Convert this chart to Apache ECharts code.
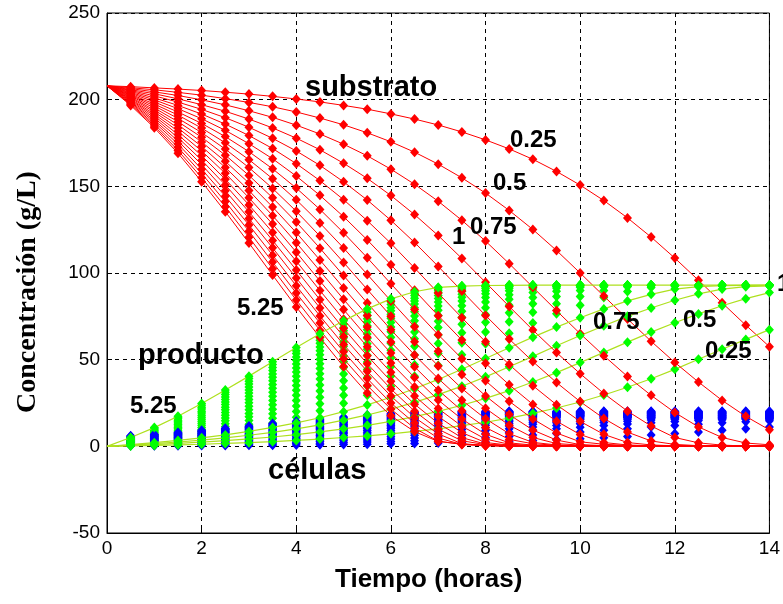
<!DOCTYPE html>
<html>
<head>
<meta charset="utf-8">
<script src="https://cdn.jsdelivr.net/npm/echarts@6/dist/echarts.min.js"></script>
<style>
html,body{margin:0;padding:0;background:#fff}
#main{width:783px;height:604px}
</style>
</head>
<body>
<div id="main"></div>
<script>
// tiempo (horas), un punto cada media hora
var tiempo = [0,0.5,1,1.5,2,2.5,3,3.5,4,4.5,5,5.5,6,6.5,7,7.5,8,8.5,9,9.5,10,10.5,11,11.5,12,12.5,13,13.5,14];

// inoculo inicial de cada curva
var inoculos = ['0.25','0.5','0.75','1','1.25','1.5','1.75','2','2.25','2.5','2.75','3','3.25','3.5','3.75','4','4.25','4.5','4.75','5','5.25'];
// curvas de producto que llevan linea
var productoConLinea = ['0.25','0.5','0.75','1','5.25'];

// substrato (g/L)
var s025 = [208,207.5,206.8,206.1,205.3,204.3,203.2,201.9,200.4,198.7,196.7,194.5,191.8,188.8,185.4,181.4,176.8,171.6,165.6,158.6,150.7,141.8,131.8,120.7,108.6,95.8,82.8,69.9,57.5];
var s050 = [208,206.9,205.7,204.2,202.6,200.6,198.4,195.9,192.9,189.4,185.5,180.9,175.7,169.7,162.8,154.9,146.1,136.1,125.1,113.0,100.0,86.7,73.5,60.6,48.4,37.1,26.5,17.3,9.5];
var s075 = [208,206.4,204.5,202.4,199.9,197.0,193.6,189.8,185.3,180.2,174.3,167.6,159.9,151.2,141.4,130.4,118.4,105.4,91.8,78.3,65.0,52.3,40.3,29.4,19.5,11.2,5.1,1.9,0.9];
var s100 = [208,205.8,203.4,200.5,197.1,193.3,188.8,183.7,177.8,171.1,163.3,154.6,144.7,133.7,121.6,108.4,94.6,80.7,67.1,54.1,41.9,30.5,20.3,11.7,5.1,2.0,0.7,0.2,0];
var s125 = [208,205.3,202.2,198.6,194.4,189.6,184.1,177.7,170.4,162.1,152.6,142.1,130.4,117.6,103.8,89.6,75.5,61.9,48.9,36.8,25.8,16.1,8.2,3.1,1.1,0.4,0.1,0,0];
var s150 = [208,204.8,201.0,196.7,191.7,185.9,179.3,171.8,163.1,153.3,142.3,130.2,117.1,102.9,88.4,74.2,60.3,47.2,35.0,24.0,14.4,6.9,2.2,0.8,0.3,0.1,0,0,0];
var s175 = [208,204.2,199.9,194.8,189.0,182.3,174.6,165.9,155.9,144.8,132.5,119.1,104.8,90.0,75.4,61.3,47.9,35.5,24.2,14.5,6.8,2.2,0.8,0.3,0.1,0,0,0,0];
var s200 = [208,203.7,198.7,192.9,186.3,178.7,170.0,160.1,149.0,136.7,123.2,108.8,93.8,78.9,64.4,50.6,37.8,26.0,15.8,7.7,2.6,1.2,0.5,0.2,0.1,0,0,0,0];
var s225 = [208,203.1,197.5,191.1,183.6,175.1,165.4,154.4,142.2,128.8,114.4,99.2,83.9,69.0,54.8,41.4,29.1,18.3,9.4,3.6,1.0,0.4,0.1,0,0,0,0,0,0];
var s250 = [208,202.6,196.4,189.2,181.0,171.5,160.8,148.8,135.6,121.3,106.1,90.5,75.1,60.3,46.4,33.4,21.9,12.2,5.1,1.6,0.7,0.2,0,0,0,0,0,0,0];
var s275 = [208,202.1,195.2,187.3,178.3,168.0,156.3,143.4,129.4,114.3,98.5,82.7,67.3,52.7,39.1,26.6,15.9,7.3,2.3,0.8,0.3,0.1,0,0,0,0,0,0,0];
var s300 = [208,201.5,194.0,185.5,175.6,164.4,151.9,138.1,123.3,107.5,91.4,75.5,60.2,45.9,32.4,20.6,10.9,4.0,1.5,0.6,0.2,0,0,0,0,0,0,0,0];
var s325 = [208,201.0,192.9,183.6,173.0,160.9,147.6,133.1,117.5,101.2,84.8,68.9,53.8,39.7,26.7,15.7,7.0,2.0,0.7,0.3,0.1,0,0,0,0,0,0,0,0];
var s350 = [208,200.4,191.7,181.8,170.4,157.5,143.4,128.2,112.0,95.4,78.9,63.0,48.1,34.2,21.8,11.6,4.2,1.2,0.5,0.2,0,0,0,0,0,0,0,0,0];
var s375 = [208,199.9,190.6,179.9,167.7,154.1,139.3,123.4,106.8,89.9,73.3,57.5,42.7,29.1,17.2,7.9,2.2,0.7,0.3,0.1,0,0,0,0,0,0,0,0,0];
var s400 = [208,199.4,189.4,178.1,165.1,150.8,135.3,118.8,101.7,84.6,68.0,52.3,37.6,24.3,13.3,5.0,1.3,0.5,0.2,0,0,0,0,0,0,0,0,0,0];
var s425 = [208,198.8,188.2,176.2,162.5,147.5,131.4,114.5,97.1,79.8,63.3,47.7,33.1,20.3,9.9,3.2,1.0,0.4,0.1,0,0,0,0,0,0,0,0,0,0];
var s450 = [208,198.3,187.1,174.4,159.9,144.3,127.7,110.3,92.6,75.2,58.7,43.3,29.0,16.7,7.2,1.5,0.6,0.2,0,0,0,0,0,0,0,0,0,0,0];
var s475 = [208,197.7,185.9,172.5,157.4,141.2,124.1,106.3,88.4,71.1,54.6,39.1,25.0,13.4,4.8,1.1,0.4,0.1,0,0,0,0,0,0,0,0,0,0,0];
var s500 = [208,197.2,184.8,170.7,155.0,138.2,120.6,102.5,84.4,67.0,50.5,35.1,21.5,10.4,3.0,1.1,0.4,0.1,0,0,0,0,0,0,0,0,0,0,0];
var s525 = [208,196.7,183.8,169.1,152.7,135.4,117.3,98.8,80.4,62.8,46.0,30.7,17.6,8.5,2.8,1.3,0.5,0.2,0,0,0,0,0,0,0,0,0,0,0];

// producto (g/L)
var p025 = [0,0.2,0.5,0.8,1.2,1.7,2.1,2.7,3.4,4.2,5.1,6.0,7.2,8.6,10.1,11.9,13.9,16.3,19.0,22.1,25.6,29.6,34.1,39.0,44.4,50.2,56.0,61.7,67.3];
var p050 = [0,0.5,1.0,1.7,2.4,3.3,4.3,5.4,6.7,8.3,10.1,12.1,14.4,17.1,20.2,23.7,27.7,32.1,37.1,42.5,48.3,54.2,60.1,65.9,71.3,76.4,81.1,85.2,88.7];
var p075 = [0,0.7,1.6,2.5,3.6,4.9,6.4,8.1,10.1,12.4,15.1,18.1,21.5,25.4,29.8,34.7,40.1,45.9,51.9,58.0,63.9,69.6,75.0,79.8,84.3,88.0,90.7,92.1,92.6];
var p100 = [0,1.0,2.1,3.4,4.9,6.6,8.6,10.9,13.5,16.5,20.0,23.9,28.3,33.2,38.6,44.5,50.7,56.9,63.0,68.8,74.2,79.3,83.9,87.7,90.7,92.1,92.7,92.9,93.0];
var p125 = [0,1.2,2.6,4.2,6.1,8.2,10.7,13.5,16.8,20.5,24.8,29.5,34.7,40.4,46.6,52.9,59.2,65.3,71.1,76.5,81.4,85.8,89.3,91.6,92.5,92.8,92.9,93.0,93.0];
var p150 = [0,1.4,3.1,5.1,7.3,9.9,12.8,16.2,20.1,24.5,29.4,34.8,40.6,47.0,53.5,59.8,66.0,71.9,77.3,82.2,86.5,89.9,92.0,92.6,92.8,92.9,93.0,93.0,93.0];
var p175 = [0,1.7,3.6,5.9,8.5,11.5,14.9,18.8,23.3,28.3,33.7,39.7,46.1,52.7,59.3,65.6,71.6,77.1,82.2,86.5,89.9,92.0,92.6,92.8,92.9,93.0,93.0,93.0,93.0];
var p200 = [0,1.9,4.2,6.7,9.7,13.1,17.0,21.4,26.4,31.9,37.9,44.3,51.0,57.7,64.2,70.4,76.1,81.4,85.9,89.5,91.8,92.4,92.8,92.9,92.9,93.0,93.0,93.0,93.0];
var p225 = [0,2.2,4.7,7.6,10.9,14.7,19.0,24.0,29.4,35.4,41.8,48.6,55.5,62.1,68.5,74.5,80.0,84.8,88.8,91.4,92.5,92.8,92.9,93.0,93.0,93.0,93.0,93.0,93.0];
var p250 = [0,2.4,5.2,8.4,12.1,16.3,21.1,26.5,32.4,38.8,45.5,52.5,59.4,66.0,72.2,78.0,83.2,87.5,90.7,92.3,92.7,92.9,93.0,93.0,93.0,93.0,93.0,93.0,93.0];
var p275 = [0,2.6,5.7,9.3,13.3,17.9,23.1,28.9,35.1,41.9,48.9,56.0,62.9,69.4,75.5,81.1,85.9,89.7,91.9,92.6,92.8,92.9,93.0,93.0,93.0,93.0,93.0,93.0,93.0];
var p300 = [0,2.9,6.3,10.1,14.5,19.5,25.1,31.2,37.9,44.9,52.1,59.2,66.1,72.5,78.5,83.8,88.1,91.2,92.3,92.7,92.9,93.0,93.0,93.0,93.0,93.0,93.0,93.0,93.0];
var p325 = [0,3.1,6.7,10.9,15.6,21.1,27.0,33.5,40.5,47.7,55.1,62.2,68.9,75.2,81.0,86.0,89.8,92.1,92.7,92.8,92.9,93.0,93.0,93.0,93.0,93.0,93.0,93.0,93.0];
var p350 = [0,3.4,7.3,11.7,16.8,22.6,28.9,35.7,42.9,50.3,57.7,64.8,71.5,77.7,83.2,87.8,91.1,92.4,92.8,92.9,93.0,93.0,93.0,93.0,93.0,93.0,93.0,93.0,93.0];
var p375 = [0,3.6,7.8,12.6,18.0,24.1,30.7,37.8,45.2,52.8,60.2,67.3,73.9,80.0,85.3,89.4,92.0,92.7,92.8,92.9,93.0,93.0,93.0,93.0,93.0,93.0,93.0,93.0,93.0];
var p400 = [0,3.8,8.3,13.4,19.2,25.6,32.5,39.9,47.5,55.2,62.6,69.6,76.2,82.1,87.0,90.7,92.4,92.8,92.9,93.0,93.0,93.0,93.0,93.0,93.0,93.0,93.0,93.0,93.0];
var p425 = [0,4.1,8.9,14.2,20.3,27.0,34.2,41.8,49.6,57.3,64.7,71.7,78.2,83.9,88.6,91.5,92.5,92.8,92.9,93.0,93.0,93.0,93.0,93.0,93.0,93.0,93.0,93.0,93.0];
var p450 = [0,4.3,9.3,15.0,21.5,28.5,35.9,43.7,51.6,59.4,66.7,73.6,80.0,85.5,89.8,92.3,92.7,92.9,93.0,93.0,93.0,93.0,93.0,93.0,93.0,93.0,93.0,93.0,93.0];
var p475 = [0,4.6,9.9,15.9,22.6,29.9,37.5,45.5,53.5,61.2,68.6,75.5,81.8,87.0,90.8,92.5,92.8,92.9,93.0,93.0,93.0,93.0,93.0,93.0,93.0,93.0,93.0,93.0,93.0];
var p500 = [0,4.8,10.4,16.7,23.7,31.2,39.1,47.2,55.2,63.0,70.4,77.3,83.4,88.3,91.6,92.5,92.8,92.9,93.0,93.0,93.0,93.0,93.0,93.0,93.0,93.0,93.0,93.0,93.0];
var p525 = [0,5.1,10.8,17.4,24.7,32.5,40.5,48.8,57.0,64.9,72.4,79.3,85.1,89.2,91.7,92.4,92.8,92.9,93.0,93.0,93.0,93.0,93.0,93.0,93.0,93.0,93.0,93.0,93.0];

// celulas (g/L)
var x025 = [0.25,0.29,0.34,0.39,0.44,0.52,0.6,0.69,0.8,0.92,1.06,1.22,1.42,1.63,1.88,2.17,2.5,2.87,3.3,3.81,4.38,5.02,5.74,6.54,7.41,8.33,9.26,10.19,11.09];
var x050 = [0.5,0.58,0.67,0.77,0.89,1.03,1.19,1.37,1.59,1.84,2.12,2.45,2.83,3.26,3.75,4.32,4.96,5.68,6.47,7.34,8.28,9.23,10.18,11.11,11.99,12.8,13.57,14.23,14.79];
var x075 = [0.75,0.87,1.0,1.15,1.33,1.54,1.79,2.06,2.38,2.75,3.18,3.66,4.21,4.84,5.55,6.34,7.2,8.14,9.12,10.09,11.05,11.96,12.82,13.61,14.32,14.92,15.36,15.59,15.66];
var x100 = [1,1.16,1.33,1.54,1.78,2.06,2.38,2.75,3.17,3.66,4.22,4.84,5.56,6.35,7.22,8.17,9.16,10.17,11.14,12.08,12.96,13.78,14.51,15.13,15.61,15.83,15.93,15.96,15.98];
var x125 = [1.25,1.44,1.67,1.93,2.23,2.57,2.97,3.43,3.96,4.55,5.24,5.99,6.84,7.76,8.75,9.77,10.79,11.77,12.71,13.58,14.37,15.07,15.64,16.0,16.15,16.2,16.22,16.23,16.23];
var x150 = [1.5,1.73,2.0,2.31,2.67,3.09,3.57,4.11,4.73,5.44,6.23,7.1,8.04,9.07,10.11,11.13,12.13,13.08,13.96,14.75,15.44,15.98,16.32,16.42,16.45,16.47,16.48,16.48,16.48];
var x175 = [1.75,2.02,2.33,2.7,3.12,3.6,4.15,4.78,5.5,6.3,7.19,8.15,9.18,10.25,11.3,12.31,13.28,14.17,14.98,15.68,16.24,16.57,16.67,16.7,16.72,16.73,16.73,16.73,16.73];
var x200 = [2.0,2.31,2.67,3.09,3.56,4.11,4.74,5.45,6.25,7.13,8.11,9.14,10.22,11.3,12.34,13.33,14.25,15.1,15.84,16.42,16.79,16.89,16.94,16.96,16.97,16.98,16.98,16.98,16.98];
var x225 = [2.25,2.6,3.01,3.47,4.01,4.62,5.32,6.11,6.99,7.95,8.99,10.08,11.19,12.26,13.28,14.25,15.13,15.91,16.55,16.97,17.15,17.2,17.22,17.23,17.23,17.23,17.23,17.23,17.23];
var x250 = [2.5,2.89,3.34,3.85,4.44,5.13,5.9,6.76,7.71,8.74,9.84,10.96,12.07,13.13,14.14,15.07,15.9,16.6,17.11,17.36,17.43,17.46,17.48,17.48,17.48,17.48,17.48,17.48,17.48];
var x275 = [2.75,3.17,3.67,4.24,4.89,5.63,6.47,7.4,8.41,9.5,10.63,11.77,12.88,13.93,14.91,15.81,16.58,17.2,17.56,17.67,17.7,17.72,17.73,17.73,17.73,17.73,17.73,17.73,17.73];
var x300 = [3.0,3.47,4.01,4.62,5.33,6.14,7.04,8.03,9.1,10.24,11.4,12.54,13.64,14.67,15.64,16.49,17.19,17.69,17.87,17.93,17.96,17.98,17.98,17.98,17.98,17.98,17.98,17.98,17.98];
var x325 = [3.25,3.75,4.34,5.01,5.77,6.64,7.6,8.64,9.77,10.94,12.12,13.27,14.35,15.37,16.3,17.1,17.72,18.08,18.18,18.2,18.22,18.23,18.23,18.23,18.23,18.23,18.23,18.23,18.23];
var x350 = [3.5,4.05,4.67,5.39,6.21,7.14,8.15,9.25,10.41,11.61,12.8,13.94,15.01,16.01,16.91,17.64,18.17,18.39,18.44,18.46,18.48,18.48,18.48,18.48,18.48,18.48,18.48,18.48,18.48];
var x375 = [3.75,4.33,5.0,5.77,6.65,7.63,8.7,9.84,11.04,12.25,13.45,14.59,15.65,16.63,17.49,18.16,18.57,18.68,18.7,18.72,18.73,18.73,18.73,18.73,18.73,18.73,18.73,18.73,18.73];
var x400 = [4.0,4.62,5.34,6.15,7.09,8.12,9.23,10.42,11.65,12.88,14.08,15.21,16.27,17.23,18.02,18.62,18.88,18.94,18.96,18.98,18.98,18.98,18.98,18.98,18.98,18.98,18.98,18.98,18.98];
var x425 = [4.25,4.91,5.68,6.54,7.53,8.61,9.77,10.98,12.23,13.48,14.67,15.79,16.84,17.76,18.51,18.99,19.15,19.2,19.22,19.23,19.23,19.23,19.23,19.23,19.23,19.23,19.23,19.23,19.23];
var x450 = [4.5,5.2,6.0,6.92,7.96,9.09,10.28,11.53,12.81,14.06,15.25,16.36,17.39,18.27,18.96,19.37,19.43,19.46,19.48,19.48,19.48,19.48,19.48,19.48,19.48,19.48,19.48,19.48,19.48];
var x475 = [4.75,5.49,6.34,7.31,8.39,9.56,10.79,12.07,13.36,14.61,15.79,16.91,17.93,18.76,19.38,19.65,19.7,19.72,19.73,19.73,19.73,19.73,19.73,19.73,19.73,19.73,19.73,19.73,19.73];
var x500 = [5.0,5.78,6.67,7.69,8.82,10.03,11.29,12.6,13.9,15.15,16.34,17.45,18.43,19.23,19.76,19.9,19.95,19.97,19.98,19.98,19.98,19.98,19.98,19.98,19.98,19.98,19.98,19.98,19.98];
var x525 = [5.25,6.06,6.99,8.05,9.23,10.48,11.78,13.11,14.44,15.7,16.91,18.02,18.96,19.61,20.02,20.13,20.19,20.21,20.23,20.23,20.23,20.23,20.23,20.23,20.23,20.23,20.23,20.23,20.23];

var sustrato = [s025,s050,s075,s100,s125,s150,s175,s200,s225,s250,s275,s300,s325,s350,s375,s400,s425,s450,s475,s500,s525];
var producto = [p025,p050,p075,p100,p125,p150,p175,p200,p225,p250,p275,p300,p325,p350,p375,p400,p425,p450,p475,p500,p525];
var celulas = [x025,x050,x075,x100,x125,x150,x175,x200,x225,x250,x275,x300,x325,x350,x375,x400,x425,x450,x475,x500,x525];

var chart = echarts.init(document.getElementById('main'));

var tamMarca = [9, 10];

// linea desde t=0, marcadores desde t=0.5
function conLinea(valores) {
  return tiempo.map(function (t, j) {
    if (j === 0) return { value: [t, valores[j]], symbol: 'none' };
    return [t, valores[j]];
  });
}
function soloPuntos(valores) {
  var d = [];
  for (var j = 1; j < tiempo.length; j++) d.push([tiempo[j], valores[j]]);
  return d;
}

var series = [];
for (var i = 0; i < inoculos.length; i++) {
  series.push({
    type: 'line', name: 'S ' + inoculos[i], data: conLinea(sustrato[i]),
    symbol: 'diamond', symbolSize: tamMarca, showAllSymbol: true,
    lineStyle: { color: '#ff0000', width: 1 },
    itemStyle: { color: '#ff0000' }
  });
  if (productoConLinea.indexOf(inoculos[i]) >= 0) {
    series.push({
      type: 'line', name: 'P ' + inoculos[i], data: conLinea(producto[i]),
      symbol: 'diamond', symbolSize: tamMarca, showAllSymbol: true,
      lineStyle: { color: '#aee01e', width: 1.2 },
      itemStyle: { color: '#00ff00' }
    });
  } else {
    series.push({
      type: 'scatter', name: 'P ' + inoculos[i], data: soloPuntos(producto[i]),
      symbol: 'diamond', symbolSize: tamMarca,
      itemStyle: { color: '#00ff00', opacity: 1 }
    });
  }
  series.push({
    type: 'scatter', name: 'X ' + inoculos[i], data: soloPuntos(celulas[i]),
    symbol: 'diamond', symbolSize: tamMarca,
    itemStyle: { color: '#0000ff', opacity: 1 }
  });
}

var fuenteEtiqueta = 'bold 24px "Liberation Sans", Arial, sans-serif';
var fuenteNombre = 'bold 29px "Liberation Sans", Arial, sans-serif';
function texto(t, x, y, fuente) {
  return {
    type: 'text', left: x, top: y, z: 100,
    style: { text: t, font: fuente, fill: '#000' }
  };
}

chart.setOption({
  animation: false,
  grid: { left: 107, right: 13, top: 13, bottom: 71, show: true, borderColor: '#000', borderWidth: 1, backgroundColor: '#fff' },
  xAxis: {
    type: 'value', min: 0, max: 14, interval: 2,
    axisLine: { show: true, onZero: false, lineStyle: { color: '#000', width: 1 } },
    axisTick: { show: true, inside: true, length: 5, lineStyle: { color: '#000' } },
    axisLabel: { color: '#000', fontSize: 19, fontFamily: '"Liberation Sans", Arial, sans-serif', margin: 6 },
    splitLine: { show: true, lineStyle: { color: '#000', type: [4, 4], width: 1 } }
  },
  yAxis: {
    type: 'value', min: -50, max: 250, interval: 50,
    axisLine: { show: true, onZero: false, lineStyle: { color: '#000', width: 1 } },
    axisTick: { show: true, inside: true, length: 5, lineStyle: { color: '#000' } },
    axisLabel: { color: '#000', fontSize: 19, fontFamily: '"Liberation Sans", Arial, sans-serif', margin: 7 },
    splitLine: { show: true, lineStyle: { color: '#000', type: [4, 4], width: 1 } }
  },
  graphic: [
    texto('substrato', 305, 73, fuenteNombre),
    texto('0.25', 510, 128, fuenteEtiqueta),
    texto('0.5', 493, 171, fuenteEtiqueta),
    texto('0.75', 470, 215, fuenteEtiqueta),
    texto('1', 452, 225, fuenteEtiqueta),
    texto('5.25', 237, 296, fuenteEtiqueta),
    texto('producto', 138, 341, fuenteNombre),
    texto('5.25', 130, 394, fuenteEtiqueta),
    texto('0.75', 593, 310, fuenteEtiqueta),
    texto('0.5', 683, 308, fuenteEtiqueta),
    texto('0.25', 705, 339, fuenteEtiqueta),
    texto('1', 777, 272, fuenteEtiqueta),
    texto('células', 268, 456, fuenteNombre),
    {
      type: 'text', left: 335, top: 567, z: 100,
      style: { text: 'Tiempo (horas)', font: 'bold 26px "Liberation Sans", Arial, sans-serif', fill: '#000' }
    },
    {
      type: 'text', x: 28, y: 292, rotation: Math.PI / 2, z: 100,
      style: { text: 'Concentración (g/L)', font: 'bold 28px "Liberation Serif", "Times New Roman", serif', fill: '#000', align: 'center', verticalAlign: 'middle', textAlign: 'center', textVerticalAlign: 'middle' }
    }
  ],
  series: series
});
</script>
</body>
</html>
